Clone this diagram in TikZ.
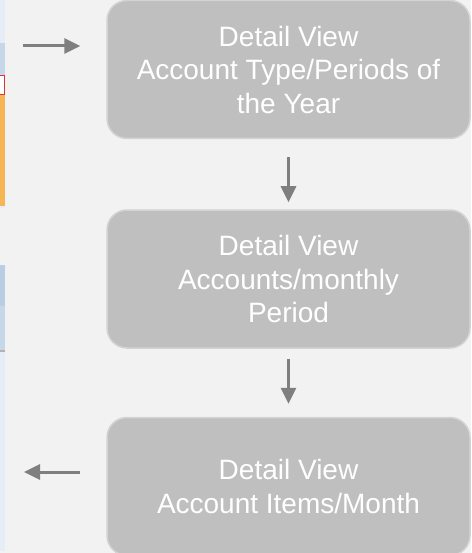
\documentclass[tikz,border=0pt]{standalone}
\usepackage{fontspec}
\setmainfont{Liberation Sans}
\usetikzlibrary{arrows.meta, positioning}

\definecolor{pagebg}{HTML}{F2F2F2}
\definecolor{boxfill}{HTML}{BFBFBF}
\definecolor{boxedge}{HTML}{D3D3D3}
\definecolor{arrowgray}{HTML}{7F7F7F}
\definecolor{stripblue}{HTML}{E6EDF7}
\definecolor{stripdark}{HTML}{C7D7EA}
\definecolor{stripmid}{HTML}{B9CDE4}
\definecolor{stripred}{HTML}{E03030}
\definecolor{striporange}{HTML}{F6B656}

\begin{document}
\begin{tikzpicture}[
        x=1pt, y=1pt,
        viewbox/.style={draw=boxedge, line width=1.5pt, fill=boxfill,
            rounded corners=20pt, minimum width=363pt, minimum height=138pt,
            text=white, align=center, inner sep=0pt,
            font=\fontsize{28}{33.5}\selectfont},
        flowarrow/.style={draw=arrowgray, line width=3pt,
            -{Triangle[length=16pt, width=15pt]}},
        every node/.style={color=black}]

    % page
    \fill[pagebg] (0,0) rectangle (471,-553);
    \useasboundingbox (0,0) rectangle (471,-553);

    % cut-off strip at the left edge
    \fill[stripblue] (0,0) rectangle (4.5,-43);
    \fill[stripdark] (0,-43) rectangle (4.5,-75);
    \fill[white] (0,-75) rectangle (4.5,-95);
    \draw[stripred, line width=1pt] (0,-75.5) -- (4,-75.5) -- (4,-94.5) -- (0,-94.5);
    \fill[striporange] (0,-95) rectangle (4.5,-206);
    \fill[stripblue] (0,-206) rectangle (4.5,-208);
    \fill[stripmid] (0,-265) rectangle (4.5,-306);
    \fill[stripdark] (0,-306) rectangle (4.5,-350);
    \fill[gray!60] (0,-350) rectangle (4.5,-352);
    \fill[stripblue] (0,-352) rectangle (4.5,-551);

    % boxes
    \node[viewbox] (yearview) at (288.5,-69.5)
        {Detail View\\Account Type/Periods of\\the Year};
    \node[viewbox, below=70pt of yearview] (monthview)
        {Detail View\\Accounts/monthly\\Period};
    \node[viewbox, below=68pt of monthview] (itemview)
        {Detail View\\Account Items/Month};

    % arrows
    \coordinate (inlink) at (23,-46);
    \coordinate (outlink) at (24,-472);
    \draw[flowarrow, shorten >=26pt] (inlink) -- (yearview.west |- inlink);
    \draw[flowarrow, shorten <=18pt, shorten >=7pt] (yearview) -- (monthview);
    \draw[flowarrow, shorten <=10pt, shorten >=13pt] (monthview) -- (itemview);
    \draw[flowarrow, shorten <=26pt] (itemview.west |- outlink) -- (outlink);
\end{tikzpicture}
\end{document}
